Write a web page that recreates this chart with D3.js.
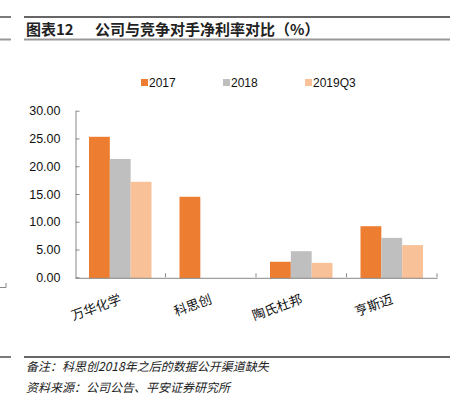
<!DOCTYPE html>
<html>
<head>
<meta charset="utf-8">
<script src="https://cdn.jsdelivr.net/npm/d3@7"></script>
<style>
  body { margin: 0; background: #fff; }
  svg { display: block; }
</style>
</head>
<body>
<svg id="chart" width="459" height="397"></svg>
<script>
const companies = ["万华化学", "科思创", "陶氏杜邦", "亨斯迈"];
const seriesNames = ["2017", "2018", "2019Q3"];
const v2017 = [25.3, 14.5, 2.8, 9.2];
const v2018 = [21.3, null, 4.7, 7.1];
const v2019Q3 = [17.2, null, 2.6, 5.8];
const yTicks = [0, 5, 10, 15, 20, 25, 30];
const colors = ["#ED7D31", "#BFBFBF", "#F8C197"];

const seriesValues = [v2017, v2018, v2019Q3];
const rows = companies.map((c, i) => ({
  company: c,
  values: seriesNames.map((s, j) => ({ series: s, value: seriesValues[j][i] }))
}));

const svg = d3.select("#chart");
const cnFont = "'Noto Sans CJK SC', 'Liberation Sans', sans-serif";
const numFont = "'Liberation Sans', Arial, sans-serif";

// header / footer rules
function rule(y, color, w) {
  [[0, 11], [24, 450]].forEach(([a, b]) => {
    svg.append("line")
      .attr("x1", a).attr("x2", b).attr("y1", y).attr("y2", y)
      .attr("stroke", color).attr("stroke-width", w);
  });
}
rule(17, "#333", 1.3);
rule(39.5, "#999", 2);
rule(357, "#333", 1.3);

svg.append("text")
  .attr("x", 26).attr("y", 35)
  .attr("font-family", cnFont).attr("font-size", 15).attr("font-weight", "bold")
  .attr("fill", "#222")
  .text("图表12");
svg.append("text")
  .attr("x", 95).attr("y", 35)
  .attr("font-family", cnFont).attr("font-size", 15).attr("font-weight", "bold")
  .attr("fill", "#222")
  .text("公司与竞争对手净利率对比（%）");

// small corner mark on the left edge
svg.append("path")
  .attr("d", "M0,287.5H6V283")
  .attr("fill", "none").attr("stroke", "#888").attr("stroke-width", 1);

const x0 = d3.scaleBand()
  .domain(companies)
  .range([75, 437]);

const x1 = d3.scaleBand()
  .domain(seriesNames)
  .range([14, x0.bandwidth() - 14]);

const y = d3.scaleLinear()
  .domain([0, 30])
  .range([277.3, 110.7]);

// bars
const groups = svg.append("g").selectAll("g")
  .data(rows)
  .join("g")
  .attr("transform", d => `translate(${x0(d.company)},0)`);

groups.selectAll("rect")
  .data(d => d.values.filter(v => v.value != null))
  .join("rect")
  .attr("x", d => x1(d.series))
  .attr("width", x1.bandwidth())
  .attr("y", d => y(d.value))
  .attr("height", d => y(0) - y(d.value) + 1)
  .attr("fill", (d, i) => colors[seriesNames.indexOf(d.series)]);

// y axis
const yAxis = svg.append("g")
  .attr("transform", "translate(75.5,0)")
  .call(d3.axisLeft(y)
    .tickValues(yTicks)
    .tickFormat(d3.format(".2f"))
    .tickSizeInner(-4)
    .tickSizeOuter(0)
    .tickPadding(15));
yAxis.select(".domain").attr("stroke", "#888");
yAxis.selectAll(".tick line").attr("stroke", "#888");
yAxis.selectAll(".tick text")
  .attr("font-family", numFont).attr("font-size", 12.5).attr("fill", "#111");

// x axis
const xAxis = svg.append("g")
  .attr("transform", `translate(0,${y(0) + 0.5})`)
  .call(d3.axisBottom(x0).tickSize(0).tickPadding(0));
xAxis.select(".domain").attr("stroke", "#888");
xAxis.selectAll(".tick text")
  .attr("font-family", cnFont).attr("font-size", 13).attr("fill", "#111")
  .attr("text-anchor", "end")
  .attr("dy", null)
  .attr("transform", "translate(2,25) rotate(-20)");

svg.append("g").selectAll("line")
  .data(companies)
  .join("line")
  .attr("x1", d => x0(d) + x0.bandwidth())
  .attr("x2", d => x0(d) + x0.bandwidth())
  .attr("y1", y(0))
  .attr("y2", y(0) - 4)
  .attr("stroke", "#888");

// legend
const legendX = [141, 223, 305];
const legend = svg.append("g").selectAll("g")
  .data(seriesNames)
  .join("g")
  .attr("transform", (d, i) => `translate(${legendX[i]},79)`);
legend.append("rect")
  .attr("width", 7).attr("height", 7)
  .attr("fill", (d, i) => colors[i]);
legend.append("text")
  .attr("x", 8).attr("y", 7.5)
  .attr("font-family", numFont).attr("font-size", 12).attr("fill", "#111")
  .text(d => d);

// notes
svg.append("text")
  .attr("x", 26).attr("y", 371)
  .attr("font-family", cnFont).attr("font-size", 12).attr("font-style", "italic")
  .attr("fill", "#222")
  .text("备注：科思创2018年之后的数据公开渠道缺失");
svg.append("text")
  .attr("x", 26).attr("y", 392)
  .attr("font-family", cnFont).attr("font-size", 12).attr("font-style", "italic")
  .attr("fill", "#222")
  .text("资料来源：公司公告、平安证券研究所");
</script>
</body>
</html>
